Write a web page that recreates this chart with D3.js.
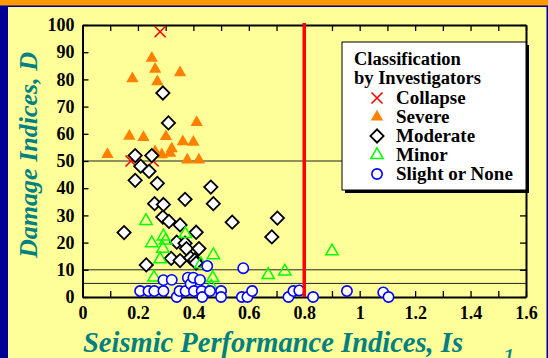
<!DOCTYPE html>
<html>
<head>
<meta charset="utf-8">
<script src="https://cdn.jsdelivr.net/npm/d3@7/dist/d3.min.js"></script>
<style>
  body { margin: 0; background: #FFFF99; }
  svg { display: block; }
</style>
</head>
<body>
<div id="chart"></div>
<script>
// ---- data: [Is, D] ----
const collapse = [[0.28, 97.5], [0.175, 50], [0.255, 50]];
const severe = [
  [0.25, 87.8], [0.262, 83.8], [0.18, 80.3], [0.27, 79.2], [0.352, 82.5],
  [0.412, 64.2], [0.169, 59.1], [0.22, 58.7], [0.301, 59], [0.362, 57.1],
  [0.40, 56.9], [0.09, 52.4], [0.262, 53.4], [0.286, 52.3], [0.316, 52.9],
  [0.322, 54.5], [0.378, 50.4], [0.42, 50.4]
];
const moderate = [
  [0.29, 75], [0.31, 64], [0.19, 52], [0.25, 52], [0.21, 48.1], [0.24, 46.2],
  [0.19, 42.9], [0.27, 41.8], [0.463, 40.4], [0.37, 35.9], [0.472, 34.3],
  [0.26, 34.3], [0.292, 34], [0.29, 29.4], [0.312, 27.8], [0.352, 26.5],
  [0.41, 23.8], [0.54, 27.5], [0.15, 23.7], [0.703, 29], [0.683, 22.1],
  [0.34, 20.2], [0.37, 19.8], [0.375, 17.8], [0.42, 17.8], [0.32, 14.2],
  [0.352, 13.4], [0.39, 14.4], [0.405, 13.6], [0.23, 11.8], [0.41, 12.5]
];
const minor = [
  [0.229, 28], [0.292, 22.3], [0.30, 20.8], [0.25, 19.8], [0.29, 17.8],
  [0.28, 13.9], [0.371, 23.2], [0.472, 15.4], [0.427, 12.1], [0.258, 7.2],
  [0.47, 7], [0.465, 3.8], [0.67, 8.1], [0.73, 9.4], [0.90, 16.8]
];
const slight = [
  [0.208, 2.2], [0.238, 2.2], [0.259, 2.2], [0.292, 2.2], [0.292, 6.2],
  [0.322, 6.3], [0.34, 0], [0.35, 2.2], [0.372, 2.2], [0.38, 7.1],
  [0.39, 4.8], [0.40, 7.1], [0.402, 2.2], [0.424, 6.3], [0.43, 2.2],
  [0.432, 0], [0.45, 11.4], [0.46, 2.2], [0.50, 2.2], [0.50, 0],
  [0.575, 0], [0.595, 0], [0.612, 2.2], [0.58, 10.6], [0.743, 0],
  [0.761, 2.2], [0.782, 2.4], [0.832, 0], [0.954, 2.2], [1.085, 1.7], [1.104, 0]
];

const xTickValues = [0, 0.1, 0.2, 0.3, 0.4, 0.5, 0.6, 0.7, 0.8, 0.9, 1, 1.1, 1.2, 1.3, 1.4, 1.5, 1.6];
const xTickLabels = ["0", "", "0.2", "", "0.4", "", "0.6", "", "0.8", "", "1", "", "1.2", "", "1.4", "", "1.6"];
const yTickValues = [0, 10, 20, 30, 40, 50, 60, 70, 80, 90, 100];
const refLines = [50, 10, 5];
const isLimit = 0.8;

const legendItems = ["Collapse", "Severe", "Moderate", "Minor", "Slight or None"];

const width = 548, height = 358;
const serif = "'Liberation Serif', 'Times New Roman', serif";
const teal = "#008080";

const svg = d3.select('#chart').append('svg')
  .attr('width', width)
  .attr('height', height);

// page decoration
svg.append('rect').attr('width', width).attr('height', height).attr('fill', '#FFFF99');
svg.append('rect').attr('width', width).attr('height', 6).attr('fill', '#FF9900');
svg.append('rect').attr('y', 5.5).attr('width', width).attr('height', 1.5).attr('fill', '#000099');
svg.append('rect').attr('y', 6).attr('width', 8).attr('height', height).attr('fill', '#000099');
svg.append('rect').attr('x', 546.5).attr('y', 6).attr('width', 2).attr('height', height).attr('fill', '#000099');

const x = d3.scaleLinear().domain([0, 1.6]).range([82.5, 526]);
const y = d3.scaleLinear().domain([0, 100]).range([297, 25]);

// reference lines
svg.append('g').selectAll('line')
  .data(refLines)
  .join('line')
  .attr('x1', x(0)).attr('x2', x(1.6))
  .attr('y1', d => y(d)).attr('y2', d => y(d))
  .attr('stroke', '#222')
  .attr('stroke-width', 1);

// axes (inward ticks on all four sides)
const fmtX = d => xTickLabels[xTickValues.indexOf(d)];
const axisB = svg.append('g')
  .attr('transform', `translate(0,${y(0)})`)
  .call(d3.axisBottom(x).tickValues(xTickValues).tickFormat(fmtX).tickSizeInner(-6).tickSizeOuter(0).tickPadding(9));
const axisT = svg.append('g')
  .attr('transform', `translate(0,${y(100)})`)
  .call(d3.axisTop(x).tickValues(xTickValues).tickFormat('').tickSizeInner(-6).tickSizeOuter(0));
const axisL = svg.append('g')
  .attr('transform', `translate(${x(0)},0)`)
  .call(d3.axisLeft(y).tickValues(yTickValues).tickSizeInner(-6).tickSizeOuter(0).tickPadding(8));
const axisR = svg.append('g')
  .attr('transform', `translate(${x(1.6)},0)`)
  .call(d3.axisRight(y).tickValues(yTickValues).tickFormat('').tickSizeInner(-6).tickSizeOuter(0));

[axisB, axisT, axisL, axisR].forEach(a => {
  a.select('.domain').attr('stroke', '#000').attr('stroke-width', 2);
  a.selectAll('.tick line').attr('stroke', '#000').attr('stroke-width', 1.3);
  a.selectAll('text')
    .attr('fill', '#000')
    .style('font-family', serif)
    .style('font-size', '18px')
    .style('font-weight', 'bold');
});

// marker shapes
const xPath = 'M-5.5,-5.5L5.5,5.5M-5.5,5.5L5.5,-5.5';
const triPath = d3.symbol().type(d3.symbolTriangle).size(66)();
const diaPath = d3.symbol().type(d3.symbolSquare).size(88)();
const circPath = d3.symbol().type(d3.symbolCircle).size(84)();

const styles = [
  { data: collapse, path: xPath, rot: 0, fill: 'none', stroke: '#FF0000', sw: 1.6 },
  { data: severe, path: triPath, rot: 0, fill: '#FF8000', stroke: 'none', sw: 0 },
  { data: moderate, path: diaPath, rot: 45, fill: '#FFFFFF', stroke: '#000000', sw: 1.8 },
  { data: minor, path: triPath, rot: 0, fill: 'none', stroke: '#00FF00', sw: 1.5 },
  { data: slight, path: circPath, rot: 0, fill: '#FFFFFF', stroke: '#0000FF', sw: 1.6 }
];

styles.forEach(s => {
  svg.append('g').selectAll('path')
    .data(s.data)
    .join('path')
    .attr('d', s.path)
    .attr('transform', d => `translate(${x(d[0])},${y(d[1])}) rotate(${s.rot})`)
    .attr('fill', s.fill)
    .attr('stroke', s.stroke)
    .attr('stroke-width', s.sw);
});

// Is = 0.8 limit
svg.append('line')
  .attr('x1', x(isLimit)).attr('x2', x(isLimit))
  .attr('y1', y(100) - 2).attr('y2', y(0))
  .attr('stroke', '#FF0000')
  .attr('stroke-width', 3.5);

// axis titles
svg.append('text')
  .attr('x', 83).attr('y', 352)
  .attr('fill', teal)
  .style('font-family', serif)
  .style('font-size', '28.5px')
  .style('font-weight', 'bold')
  .style('font-style', 'italic')
  .text('Seismic Performance Indices, Is');

svg.append('text')
  .attr('transform', 'translate(37,155) rotate(-90)')
  .attr('text-anchor', 'middle')
  .attr('fill', teal)
  .style('font-family', serif)
  .style('font-size', '26px')
  .style('font-weight', 'bold')
  .style('font-style', 'italic')
  .text('Damage Indices, D');

svg.append('text')
  .attr('x', 502).attr('y', 366)
  .attr('fill', teal)
  .style('font-family', serif)
  .style('font-size', '26px')
  .style('font-style', 'italic')
  .text('1');

// legend
const lg = svg.append('g').attr('transform', 'translate(342,42)');
lg.append('rect').attr('x', 3).attr('y', 3).attr('width', 184).attr('height', 148).attr('fill', '#000');
lg.append('rect').attr('width', 184).attr('height', 148).attr('fill', '#FFF').attr('stroke', '#000').attr('stroke-width', 1);
lg.append('text')
  .attr('x', 12).attr('y', 23)
  .style('font-family', serif).style('font-size', '18.5px').style('font-weight', 'bold')
  .selectAll('tspan')
  .data(['Classification', 'by Investigators'])
  .join('tspan')
  .attr('x', 12)
  .attr('dy', (d, i) => i === 0 ? 0 : 18.5)
  .text(d => d);

const items = lg.selectAll('.item')
  .data(legendItems)
  .join('g')
  .attr('class', 'item')
  .attr('transform', (d, i) => `translate(0,${56 + i * 19})`);
items.append('path')
  .attr('d', (d, i) => styles[i].path)
  .attr('transform', (d, i) => `translate(35,0) rotate(${styles[i].rot})`)
  .attr('fill', (d, i) => styles[i].fill)
  .attr('stroke', (d, i) => styles[i].stroke)
  .attr('stroke-width', (d, i) => styles[i].sw);
items.append('text')
  .attr('x', 54).attr('y', 6)
  .style('font-family', serif).style('font-size', '19px').style('font-weight', 'bold')
  .text(d => d);
</script>
</body>
</html>
